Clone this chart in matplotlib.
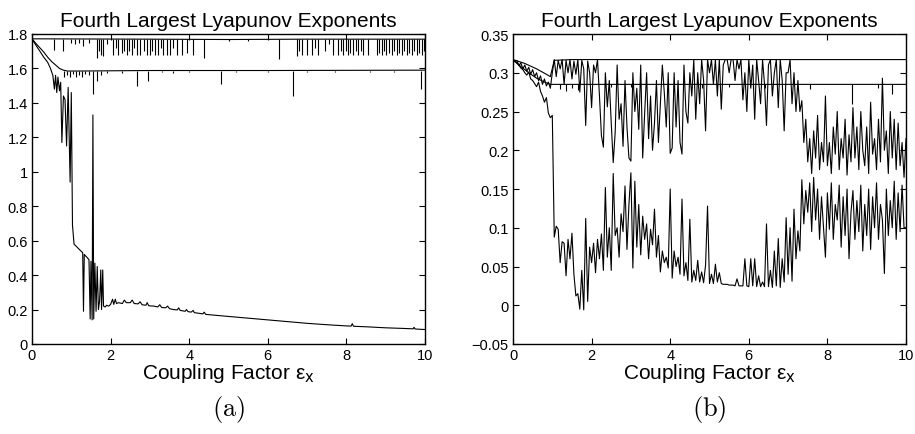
import numpy as np
import matplotlib
matplotlib.use("Agg")
import matplotlib.pyplot as plt

plt.rcParams['font.family'] = ['Liberation Sans', 'DejaVu Sans']

x_ticks = [0, 2, 4, 6, 8, 10]

# ---------- panel (a) ----------
a_yticks = [0, 0.2, 0.4, 0.6, 0.8, 1, 1.2, 1.4, 1.6, 1.8]
a_ylabels = ['0', '0.2', '0.4', '0.6', '0.8', '1', '1.2', '1.4', '1.6', '1.8']

a_top_x = [0, 3, 5, 7, 10]
a_top_y = [1.772, 1.770, 1.768, 1.770, 1.770]
a_top_spk_x = [0.56, 0.8, 1.0, 1.1, 1.2, 1.31, 1.45, 1.65, 1.7, 1.75, 1.8, 1.9,
               2.07, 2.13, 2.2, 2.28, 2.35, 2.41, 2.47, 2.54, 2.6, 2.66, 2.75,
               2.85, 2.92, 3.0, 3.06, 3.13, 3.21, 3.27, 3.34, 3.43, 3.51, 3.6,
               3.68, 3.81, 3.94, 4.1, 4.38, 5.0, 5.5, 6.29, 6.74, 6.8, 6.86,
               6.99, 7.12, 7.2, 7.29, 7.46, 7.55, 7.67, 7.79, 7.85, 7.92, 7.98,
               8.05, 8.1, 8.18, 8.24, 8.3, 8.37, 8.43, 8.56, 8.77, 8.83, 8.9,
               8.96, 9.02, 9.08, 9.15, 9.21, 9.28, 9.34, 9.41, 9.47, 9.53, 9.6,
               9.66, 9.72, 9.79, 9.85, 9.92, 9.97]
a_top_spk_y = [1.71, 1.70, 1.75, 1.74, 1.75, 1.73, 1.75, 1.66, 1.70, 1.68, 1.67, 1.74,
               1.68, 1.72, 1.68, 1.69, 1.70, 1.68, 1.70, 1.68, 1.72, 1.68, 1.68,
               1.70, 1.68, 1.68, 1.70, 1.68, 1.68, 1.72, 1.68, 1.68, 1.68, 1.72,
               1.68, 1.68, 1.69, 1.68, 1.66, 1.76, 1.76, 1.655, 1.67, 1.70, 1.68,
               1.68, 1.68, 1.72, 1.68, 1.70, 1.74, 1.68, 1.68, 1.70, 1.68, 1.70,
               1.68, 1.69, 1.68, 1.70, 1.68, 1.70, 1.68, 1.68, 1.68, 1.69, 1.68,
               1.70, 1.68, 1.69, 1.68, 1.70, 1.68, 1.69, 1.68, 1.70, 1.68, 1.69,
               1.68, 1.70, 1.68, 1.69, 1.68, 1.70]

a_mid_x = [0, 0.1, 0.2, 0.3, 0.4, 0.5, 0.6, 0.7, 0.8, 0.9, 1.2, 3, 6, 10]
a_mid_y = [1.772, 1.745, 1.72, 1.695, 1.665, 1.64, 1.62, 1.60, 1.59, 1.585, 1.585, 1.588, 1.588, 1.59]
a_mid_spk_x = [0.82, 0.9, 0.97, 1.05, 1.12, 1.2, 1.28, 1.36, 1.44, 1.56, 1.65, 1.75,
               1.9, 2.3, 2.66, 2.95, 3.3, 3.6, 4.0, 4.8, 5.2, 6.0, 6.65, 7.0, 7.7,
               8.6, 9.2, 9.89]
a_mid_spk_y = [1.55, 1.56, 1.55, 1.57, 1.55, 1.56, 1.55, 1.57, 1.56, 1.45, 1.53, 1.56,
               1.575, 1.575, 1.50, 1.53, 1.578, 1.575, 1.578, 1.51, 1.578, 1.578, 1.44, 1.578, 1.578,
               1.578, 1.578, 1.48]

a_low_x = [0, 0.1, 0.2, 0.3, 0.4, 0.47, 0.53, 0.57, 0.6, 0.63, 0.66, 0.7, 0.73, 0.76,
           0.8, 0.84, 0.88, 0.92, 0.97, 1.0, 1.03, 1.07, 1.2, 1.29, 1.31, 1.33, 1.45,
           1.48, 1.5, 1.53, 1.55, 1.57, 1.6, 1.63, 1.66, 1.69, 1.72, 1.75, 1.77, 1.8,
           1.82, 1.86, 1.9, 1.95, 2.0, 2.05, 2.08, 2.12, 2.15, 2.2, 2.3, 2.35, 2.4,
           2.5, 2.55, 2.6, 2.7, 2.75, 2.8, 2.9, 2.93, 2.97, 3.1, 3.2, 3.25, 3.3, 3.4,
           3.45, 3.5, 3.6, 3.7, 3.73, 3.77, 3.9, 3.93, 3.97, 4.05, 4.1, 4.13, 4.35,
           4.38, 4.42, 5.0, 5.5, 6.0, 6.5, 7.0, 7.5, 8.0, 8.12, 8.15, 8.18, 8.5, 9.0,
           9.5, 9.7, 9.72, 9.75, 10.0]
a_low_y = [1.77, 1.735, 1.70, 1.665, 1.635, 1.60, 1.56, 1.48, 1.56, 1.46, 1.55, 1.47, 1.52, 1.17,
           1.44, 1.42, 1.15, 1.49, 0.94, 1.46, 0.69, 0.58, 0.55, 0.53, 0.19, 0.52, 0.49,
           0.145, 0.48, 0.14, 1.33, 0.145, 0.47, 0.19, 0.45, 0.20, 0.25, 0.43, 0.20, 0.43,
           0.22, 0.215, 0.225, 0.22, 0.23, 0.26, 0.23, 0.26, 0.235, 0.24, 0.235, 0.255, 0.24,
           0.24, 0.255, 0.235, 0.233, 0.245, 0.228, 0.225, 0.24, 0.222, 0.22, 0.215, 0.228, 0.212, 0.21,
           0.22, 0.205, 0.20, 0.198, 0.21, 0.195, 0.19, 0.20, 0.188, 0.185, 0.195, 0.182, 0.175,
           0.185, 0.172, 0.16, 0.15, 0.14, 0.13, 0.12, 0.112, 0.105, 0.104, 0.118, 0.103, 0.10, 0.094,
           0.09, 0.088, 0.097, 0.087, 0.084]

# ---------- panel (b) ----------
b_yticks = [-0.05, 0, 0.05, 0.1, 0.15, 0.2, 0.25, 0.3, 0.35]
b_ylabels = ['\u22120.05', '0', '0.05', '0.1', '0.15', '0.2', '0.25', '0.3', '0.35']

b_top_x = [0, 0.3, 0.6, 0.85, 0.95, 1.05, 1.5, 10]
b_top_y = [0.317, 0.312, 0.305, 0.298, 0.295, 0.316, 0.317, 0.317]

b_mid_x = [0, 0.2, 0.4, 0.6, 0.8, 0.95, 1.2, 10]
b_mid_y = [0.317, 0.308, 0.300, 0.293, 0.288, 0.285, 0.285, 0.285]
b_mid_spk_x = [1.2, 1.35, 1.5, 1.65, 2.5, 3.0, 4.8, 5.5, 6.1, 6.4, 7.56, 8.62, 9.3, 9.64]
b_mid_spk_y = [0.279, 0.277, 0.280, 0.278, 0.281, 0.281, 0.280, 0.281, 0.279, 0.280,
               0.279, 0.260, 0.280, 0.2726]

# sampled every 0.05 from 0 to 10
b_grid = np.linspace(0, 10, 201)
b_upper = [
    0.317, 0.314, 0.316, 0.309, 0.313, 0.305, 0.310, 0.302, 0.307, 0.298, 0.304, 0.295, 0.300, 0.290, 0.296, 0.285, 0.292, 0.283, 0.288, 0.280,
    0.300, 0.317, 0.295, 0.316, 0.305, 0.317, 0.285, 0.316, 0.300, 0.317, 0.292, 0.315, 0.298, 0.317, 0.275, 0.316, 0.305, 0.232, 0.315, 0.300,
    0.255, 0.310, 0.300, 0.317, 0.270, 0.219, 0.204, 0.300, 0.256, 0.290, 0.235, 0.184, 0.223, 0.310, 0.240, 0.260, 0.205, 0.290, 0.230, 0.190,
    0.186, 0.300, 0.250, 0.280, 0.227, 0.310, 0.190, 0.248, 0.300, 0.215, 0.270, 0.200, 0.235, 0.290, 0.210, 0.260, 0.310, 0.274, 0.230, 0.300,
    0.196, 0.203, 0.300, 0.230, 0.290, 0.210, 0.195, 0.310, 0.250, 0.235, 0.300, 0.270, 0.317, 0.240, 0.300, 0.260, 0.317, 0.290, 0.225, 0.317,
    0.300, 0.317, 0.285, 0.317, 0.270, 0.317, 0.253, 0.310, 0.317, 0.317, 0.300, 0.317, 0.317, 0.290, 0.317, 0.305, 0.317, 0.265, 0.300, 0.250,
    0.317, 0.280, 0.310, 0.240, 0.317, 0.290, 0.260, 0.317, 0.285, 0.232, 0.310, 0.317, 0.270, 0.300, 0.317, 0.255, 0.317, 0.290, 0.225, 0.300,
    0.300, 0.317, 0.260, 0.300, 0.250, 0.290, 0.250, 0.264, 0.210, 0.240, 0.185, 0.215, 0.170, 0.225, 0.190, 0.245, 0.175, 0.210, 0.185, 0.270,
    0.180, 0.210, 0.170, 0.230, 0.195, 0.250, 0.175, 0.215, 0.190, 0.240, 0.168, 0.220, 0.185, 0.255, 0.190, 0.230, 0.175, 0.250, 0.200, 0.180,
    0.230, 0.170, 0.262, 0.195, 0.215, 0.175, 0.240, 0.185, 0.293, 0.200, 0.225, 0.170, 0.250, 0.190, 0.240, 0.175, 0.235, 0.180, 0.210, 0.165,
    0.215]
b_lower = [
    0.317, 0.315, 0.312, 0.310, 0.306, 0.304, 0.300, 0.297, 0.301, 0.292, 0.290, 0.286, 0.282, 0.288, 0.276, 0.270, 0.262, 0.268, 0.248, 0.242,
    0.245, 0.088, 0.102, 0.098, 0.055, 0.082, 0.080, 0.038, 0.085, 0.060, 0.093, 0.040, 0.012, 0.015, -0.005, 0.045, -0.006, 0.112, 0.005, 0.075,
    0.055, 0.080, 0.042, 0.085, 0.060, 0.092, 0.045, 0.152, 0.062, 0.100, 0.045, 0.170, 0.090, 0.100, 0.062, 0.118, 0.095, 0.154, 0.072, 0.130,
    0.171, 0.048, 0.160, 0.075, 0.130, 0.065, 0.115, 0.085, 0.105, 0.060, 0.098, 0.078, 0.124, 0.062, 0.090, 0.043, 0.070, 0.055, 0.062, 0.048,
    0.150, 0.035, 0.070, 0.050, 0.062, 0.040, 0.137, 0.038, 0.055, 0.032, 0.111, 0.030, 0.045, 0.032, 0.058, 0.030, 0.043, 0.029, 0.052, 0.128,
    0.028, 0.040, 0.028, 0.053, 0.030, 0.042, 0.028, 0.027, 0.027, 0.027, 0.026, 0.026, 0.026, 0.025, 0.034, 0.025, 0.025, 0.025, 0.060, 0.025,
    0.024, 0.060, 0.025, 0.060, 0.024, 0.038, 0.024, 0.030, 0.024, 0.105, 0.024, 0.045, 0.023, 0.070, 0.025, 0.086, 0.023, 0.060, 0.030, 0.113,
    0.040, 0.100, 0.031, 0.124, 0.060, 0.096, 0.070, 0.162, 0.105, 0.148, 0.120, 0.158, 0.095, 0.165, 0.110, 0.150, 0.085, 0.140, 0.100, 0.062,
    0.145, 0.098, 0.158, 0.085, 0.130, 0.110, 0.155, 0.075, 0.140, 0.090, 0.150, 0.060, 0.120, 0.148, 0.085, 0.135, 0.095, 0.155, 0.070, 0.130,
    0.090, 0.150, 0.072, 0.140, 0.100, 0.158, 0.085, 0.130, 0.110, 0.041, 0.150, 0.090, 0.135, 0.100, 0.160, 0.085, 0.145, 0.095, 0.155, 0.100,
    0.100]

title = 'Fourth Largest Lyapunov Exponents'
xlabel = r'Coupling Factor ε$_{\mathsf{x}}$'

fig = plt.figure(figsize=(9.15, 4.35), dpi=100)
ax_a = fig.add_axes([32/915, 90/435, 393/915, 310/435])
ax_b = fig.add_axes([513/915, 90/435, 393/915, 310/435])

lw = 0.8
ax_a.plot(a_top_x, a_top_y, color='k', lw=lw)
ax_a.vlines(a_top_spk_x, a_top_spk_y, 1.77, color='k', lw=lw)
ax_a.plot(a_mid_x, a_mid_y, color='k', lw=lw)
ax_a.vlines(a_mid_spk_x, a_mid_spk_y, 1.587, color='k', lw=lw)
ax_a.plot(a_low_x, a_low_y, color='k', lw=lw)

ax_b.plot(b_top_x, b_top_y, color='k', lw=lw)
ax_b.plot(b_mid_x, b_mid_y, color='k', lw=lw)
ax_b.vlines(b_mid_spk_x, b_mid_spk_y, 0.285, color='k', lw=lw)
ax_b.plot(b_grid, b_upper, color='k', lw=lw)
ax_b.plot(b_grid, b_lower, color='k', lw=lw)

for ax, yt, yl, lim, lab in [(ax_a, a_yticks, a_ylabels, (0, 1.8), '(a)'),
                             (ax_b, b_yticks, b_ylabels, (-0.05, 0.35), '(b)')]:
    ax.set_xlim(0, 10)
    ax.set_ylim(*lim)
    ax.set_xticks(x_ticks)
    ax.set_xticklabels([str(t) for t in x_ticks])
    ax.set_yticks(yt)
    ax.set_yticklabels(yl)
    ax.tick_params(direction='in', top=True, right=True, length=4, width=0.8,
                   labelsize=10.5, pad=3)
    for s in ax.spines.values():
        s.set_linewidth(1.0)
    ax.set_title(title, fontsize=15, pad=6)
    ax.set_xlabel(xlabel, fontsize=15, labelpad=-1, math_fontfamily='dejavusans')
    pos = ax.get_position()
    fig.text(pos.x0 + pos.width / 2, 1 - 410/435, r'$\mathrm{' + lab + '}$',
             fontsize=19, ha='center', va='center', math_fontfamily='cm')

fig.savefig('out.png', dpi=100)
